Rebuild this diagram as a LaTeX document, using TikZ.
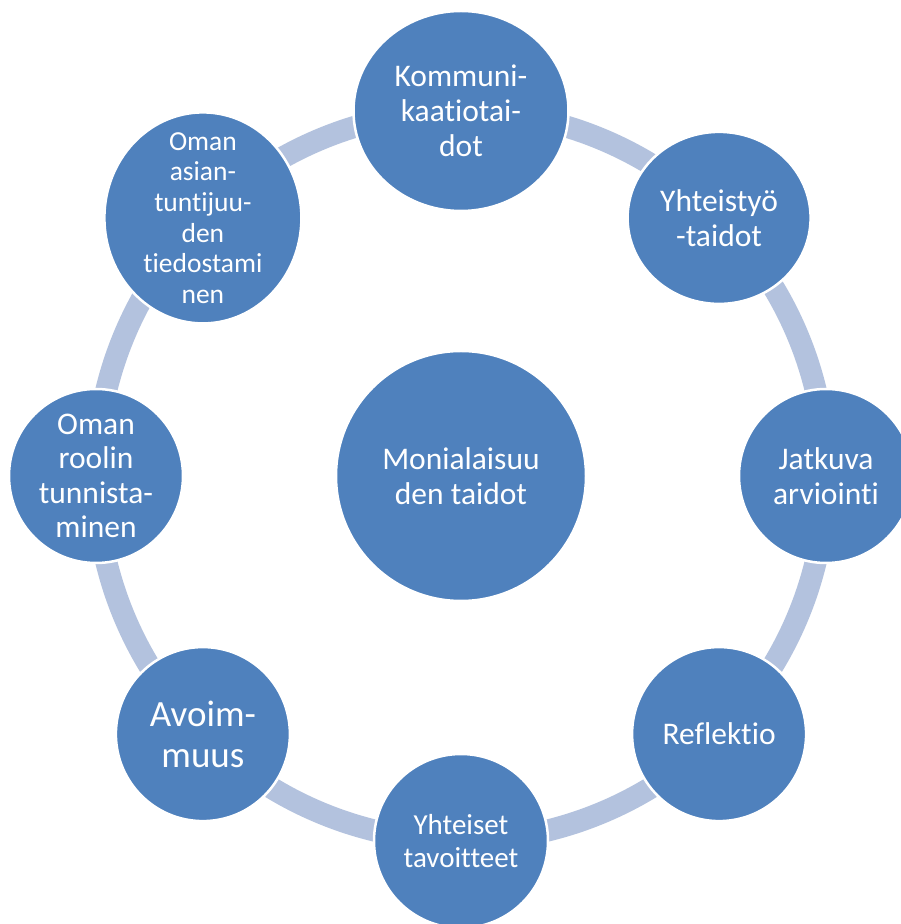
\documentclass[tikz,border=0pt]{standalone}
\usepackage{fontspec}
\setmainfont{Carlito}[Ligatures={NoCommon}]
\usetikzlibrary{backgrounds,shapes.geometric}
\definecolor{ballblue}{HTML}{4F81BD}
\definecolor{ringblue}{HTML}{B3C2DE}
\begin{document}
\begin{tikzpicture}[x=1pt,y=1pt,
  ball/.style={ellipse, fill=ballblue, draw=white, line width=2.5pt, inner sep=0pt, outer sep=0pt},
  lbl/.style={text=white, align=center, inner sep=0pt},
  fa/.style={font=\fontsize{31.5}{35}\selectfont},
  link/.style={draw=ringblue, line width=22pt, bend left=22.5, looseness=0.885}]
\useasboundingbox (0,0) rectangle (900,924);
\coordinate (C) at (461,448);
% centre
\node[ball, minimum width=250, minimum height=250] (mid) at (C) {};
\node[lbl, fa] (midt) at (mid) {Monialaisuu\\den taidot};
% outer ring
\node[ball, minimum width=215, minimum height=200] (kom) at ([shift={(90:365)}]C) {};
\node[lbl, fa] (komt) at (kom) {Kommuni-\\kaatiotai-\\dot};
\node[ball, minimum width=183, minimum height=172] (yht) at ([shift={(45:365)}]C) {};
\node[lbl, fa] (yhtt) at (yht) {Yhteistyö\\-taidot};
\node[ball, minimum width=174, minimum height=174] (jat) at ([shift={(0:365)}]C) {};
\node[lbl, fa] (jatt) at (jat) {Jatkuva\\arviointi};
\node[ball, minimum width=174, minimum height=174] (ref) at ([shift={(-45:365)}]C) {};
\node[lbl, fa] (reft) at (ref) {Reflektio};
\node[ball, minimum width=174, minimum height=174] (tav) at ([shift={(-90:365)}]C) {};
\node[lbl, font=\fontsize{29}{33}\selectfont] (tavt) at (tav) {Yhteiset\\tavoitteet};
\node[ball, minimum width=174, minimum height=174] (avo) at ([shift={(-135:365)}]C) {};
\node[lbl, font=\fontsize{37}{41}\selectfont] (avot) at (avo) {Avoim-\\muus};
\node[ball, minimum width=174, minimum height=174] (rol) at ([shift={(180:365)}]C) {};
\node[lbl, font=\fontsize{31.5}{34.5}\selectfont] (rolt) at (rol) {Oman\\roolin\\tunnista-\\minen};
\node[ball, minimum width=197, minimum height=211] (asi) at ([shift={(135:365)}]C) {};
\node[lbl, font=\fontsize{27.5}{30.6}\selectfont] (asit) at (asi) {Oman\\asian-\\tuntijuu-\\den\\tiedostami\\nen};
% connectors
\begin{scope}[on background layer]
\fill[white] (0,0) rectangle (900,924);
\draw[link] (kom.center) to (yht.center);
\draw[link] (yht.center) to (jat.center);
\draw[link] (jat.center) to (ref.center);
\draw[link] (ref.center) to (tav.center);
\draw[link] (tav.center) to (avo.center);
\draw[link] (avo.center) to (rol.center);
\draw[link] (rol.center) to (asi.center);
\draw[link] (asi.center) to (kom.center);
\end{scope}
\end{tikzpicture}
\end{document}
